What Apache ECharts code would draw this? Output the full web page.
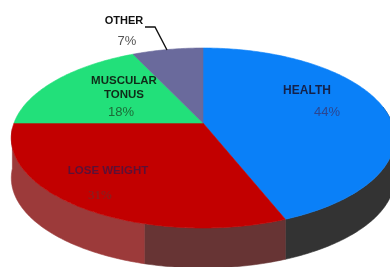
<!DOCTYPE html>
<html>
<head>
<meta charset="utf-8">
<script src="https://cdn.jsdelivr.net/npm/echarts@6/dist/echarts.min.js"></script>
<style>
  html, body { margin: 0; padding: 0; background: #fff; }
  #chart { width: 390px; height: 267px; }
</style>
</head>
<body>
<div id="chart"></div>
<script>
// slices, clockwise from 12 o'clock
const categories = ['HEALTH', 'LOSE WEIGHT', 'MUSCULAR\nTONUS', 'OTHER']
const shares = [44, 31, 18, 7]

const topColors = ['#0a80f8', '#c20000', '#22e07a', '#6a6a9c']
const sideColors = [['#333333'], ['#673434', '#9c3a3a'], ['#178a4a'], ['#45456a']]
const sideBreaks = [[], [54.2], [], []]
const nameColors = ['#14214a', '#5c1036', '#0f2b18', '#111111']
const pctColors = ['#2c4690', '#7a2626', '#1d6a37', '#555555']
const nameAt = [[307, 91], [108, 171], [124, 88], [124, 21]]
const pctAt = [[327, 112], [100, 196], [121, 112], [127, 41]]

// fake perspective for the tilted disc
const CX = 203, CY = 123, A = 189, B = 87.5, K = 1 / 6, DEPTH = 40

function pt(pct, r, drop) {
  const t = pct / 100 * 2 * Math.PI
  const u = r * Math.sin(t)
  const v = -r * Math.cos(t)
  const w = 1 - K * v
  return [CX + A * u / w, CY + B * v / w + (drop || 0)]
}

function arc(p0, p1, drop) {
  const pts = []
  const n = Math.max(2, Math.ceil((p1 - p0) * 4))
  for (let i = 0; i <= n; i++) pts.push(pt(p0 + (p1 - p0) * i / n, 1, drop))
  return pts
}

let acc = 0
const sliceData = shares.map((v, i) => {
  const item = [acc, acc + v, i]
  acc += v
  return item
})

function renderSide(params, api) {
  const s = api.value(0), e = api.value(1), i = api.value(2)
  const a = Math.max(s, 22), b = Math.min(e, 74)
  if (a >= b) return null
  const cuts = [a].concat(sideBreaks[i].filter(c => c > a && c < b), [b])
  const children = []
  for (let k = 0; k < cuts.length - 1; k++) {
    const pts = arc(cuts[k], cuts[k + 1], 0).concat(arc(cuts[k], cuts[k + 1], DEPTH).reverse())
    const c = sideColors[i][Math.min(k, sideColors[i].length - 1)]
    children.push({
      type: 'polygon',
      shape: { points: pts },
      style: { fill: c, stroke: c, lineWidth: 0.6 }
    })
  }
  return { type: 'group', children }
}

function renderTop(params, api) {
  const s = api.value(0), e = api.value(1), i = api.value(2)
  const pts = [[CX, CY]].concat(arc(s, e, 0))
  return {
    type: 'polygon',
    shape: { points: pts },
    style: { fill: topColors[i], stroke: topColors[i], lineWidth: 0.6 }
  }
}

function renderLabel(params, api) {
  const i = api.value(2)
  const size = i === 0 ? 12 : (i === 3 ? 11 : 11.5)
  const children = [
    {
      type: 'text',
      style: {
        text: categories[i],
        x: nameAt[i][0], y: nameAt[i][1],
        fill: nameColors[i],
        font: 'bold ' + size + 'px "Liberation Sans", Arial, sans-serif',
        lineHeight: 14,
        align: 'center', verticalAlign: 'middle',
        textAlign: 'center', textVerticalAlign: 'middle'
      }
    },
    {
      type: 'text',
      style: {
        text: shares[i] + '%',
        x: pctAt[i][0], y: pctAt[i][1],
        fill: pctColors[i],
        font: i === 1 ? '13px "Liberation Serif", serif' : '13px "Liberation Sans", Arial, sans-serif',
        align: 'center', verticalAlign: 'middle',
        textAlign: 'center', textVerticalAlign: 'middle'
      }
    }
  ]
  if (i === 3) {
    children.push({
      type: 'polyline',
      shape: { points: [[145, 27], [155, 27], [167, 50]] },
      style: { stroke: '#111', lineWidth: 1.4, fill: null }
    })
  }
  return { type: 'group', children }
}

const chart = echarts.init(document.getElementById('chart'), null, { renderer: 'canvas' })
chart.setOption({
  backgroundColor: '#fff',
  animation: false,
  series: [
    { type: 'custom', coordinateSystem: 'none', z: 1, data: sliceData, renderItem: renderSide, silent: true },
    { type: 'custom', coordinateSystem: 'none', z: 2, data: sliceData, renderItem: renderTop, silent: true },
    { type: 'custom', coordinateSystem: 'none', z: 3, data: sliceData, renderItem: renderLabel, silent: true }
  ]
})
</script>
</body>
</html>
